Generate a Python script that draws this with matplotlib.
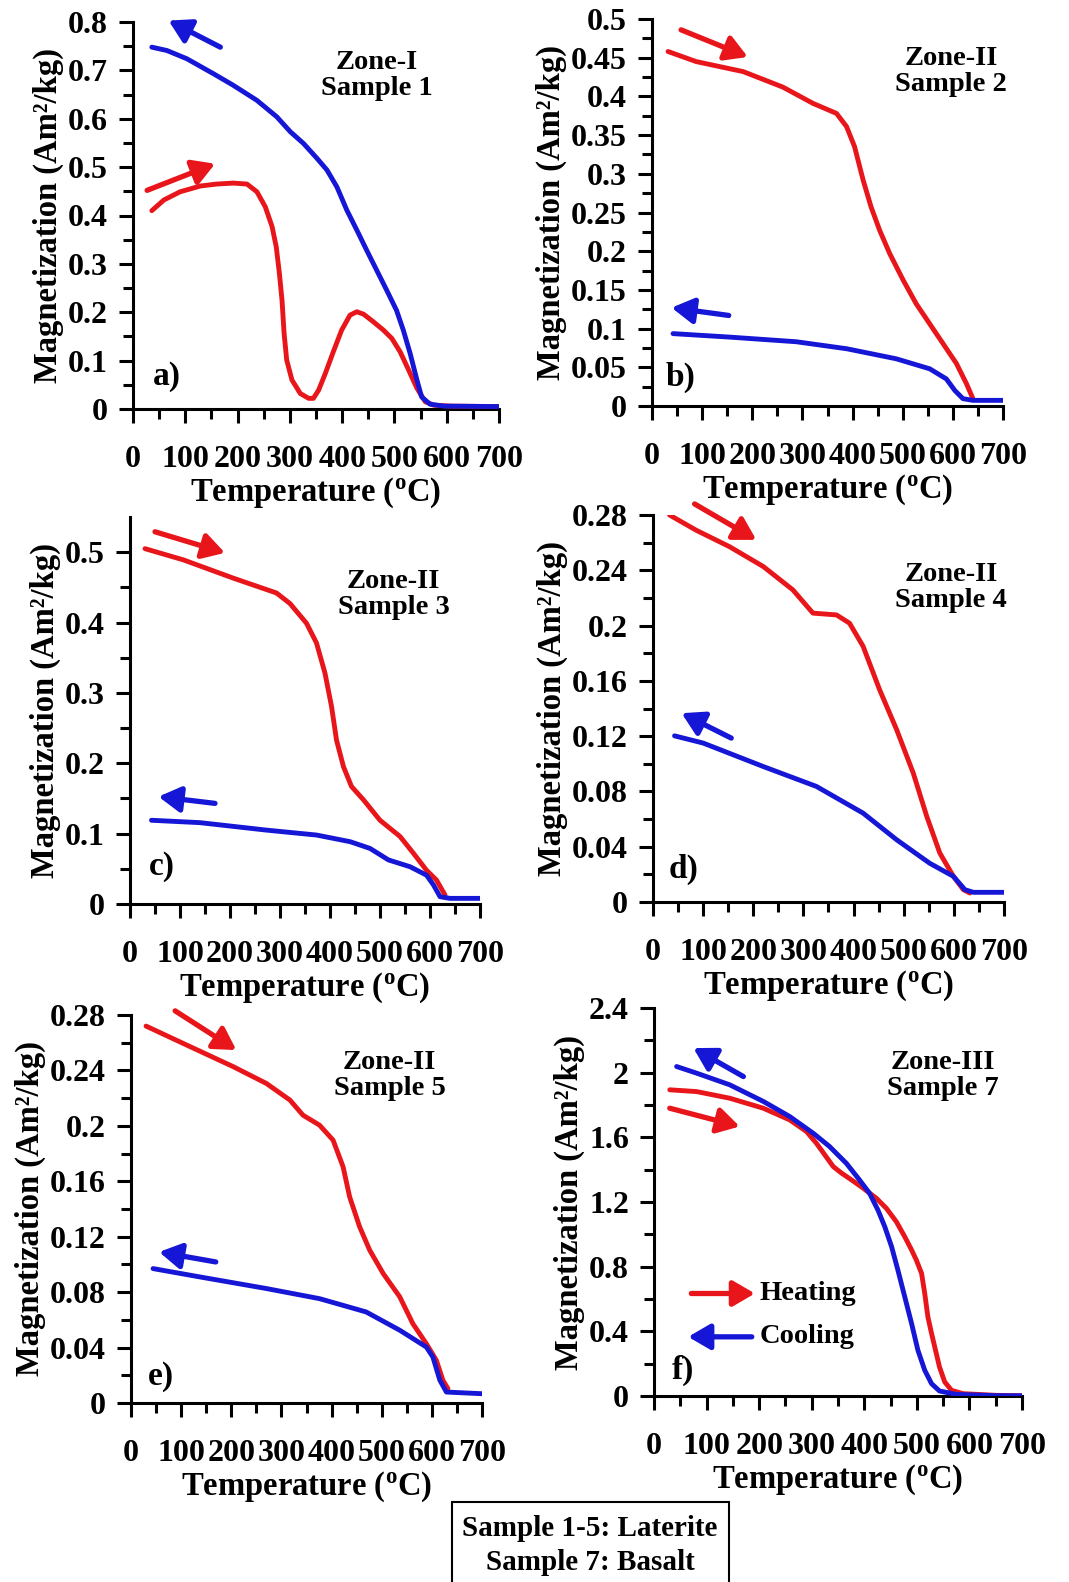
import matplotlib
matplotlib.use("Agg")
import matplotlib.pyplot as plt
from matplotlib.patches import Rectangle

plt.rcParams['font.family'] = ['Liberation Serif', 'DejaVu Serif']
plt.rcParams['font.weight'] = 'bold'
plt.rcParams['axes.labelweight'] = 'bold'
plt.rcParams['mathtext.fontset'] = 'custom'
plt.rcParams['mathtext.rm'] = 'Liberation Serif:bold'
plt.rcParams['mathtext.it'] = 'Liberation Serif:bold'
plt.rcParams['mathtext.bf'] = 'Liberation Serif:bold'

RED = '#e8161b'
BLUE = '#1616d6'

# ---------------- data (Temperature °C, Magnetization Am2/kg) ----------------
# a) Zone-I Sample 1
a_heat_T = [36, 59, 90, 129, 160, 192, 218, 237, 253, 266, 274, 280, 285, 289, 294, 304, 320, 336, 345, 355, 368, 383, 399, 415, 428, 441, 460, 479, 495, 511, 527, 543, 559, 575, 606, 700]
a_heat_M = [0.410, 0.432, 0.449, 0.461, 0.465, 0.467, 0.465, 0.449, 0.418, 0.377, 0.335, 0.280, 0.225, 0.156, 0.101, 0.060, 0.032, 0.022, 0.022, 0.039, 0.074, 0.118, 0.163, 0.194, 0.201, 0.196, 0.180, 0.163, 0.146, 0.118, 0.081, 0.043, 0.015, 0.008, 0.006, 0.005]
a_cool_T = [36, 65, 103, 154, 192, 237, 275, 301, 326, 352, 371, 390, 409, 428, 447, 466, 485, 504, 517, 530, 543, 552, 568, 594, 700]
a_cool_M = [0.748, 0.741, 0.724, 0.693, 0.669, 0.638, 0.604, 0.573, 0.549, 0.518, 0.494, 0.459, 0.411, 0.370, 0.328, 0.287, 0.246, 0.204, 0.163, 0.115, 0.060, 0.025, 0.010, 0.006, 0.005]

# b) Zone-II Sample 2
b_heat_T = [32, 88, 182, 261, 321, 368, 388, 404, 421, 437, 454, 474, 501, 527, 554, 580, 607, 627, 640]
b_heat_M = [0.458, 0.445, 0.432, 0.412, 0.391, 0.378, 0.361, 0.335, 0.292, 0.257, 0.227, 0.197, 0.1625, 0.132, 0.106, 0.081, 0.055, 0.029, 0.0095]
b_cool_T = [42, 155, 288, 388, 487, 554, 587, 604, 620, 640, 700]
b_cool_M = [0.0935, 0.089, 0.083, 0.074, 0.061, 0.048, 0.035, 0.020, 0.0095, 0.0073, 0.0073]

# c) Zone-II Sample 3
c_heat_T = [30, 107, 207, 293, 320, 353, 373, 390, 403, 413, 427, 443, 467, 500, 540, 567, 593, 613, 630]
c_heat_M = [0.505, 0.489, 0.463, 0.442, 0.427, 0.399, 0.371, 0.328, 0.281, 0.233, 0.195, 0.167, 0.148, 0.119, 0.096, 0.072, 0.048, 0.034, 0.0128]
c_cool_T = [43, 140, 273, 373, 440, 480, 517, 560, 593, 607, 620, 640, 700]
c_cool_M = [0.119, 0.1156, 0.105, 0.098, 0.0886, 0.079, 0.0626, 0.053, 0.041, 0.027, 0.0104, 0.008, 0.008]

# d) Zone-II Sample 4
d_heat_T = [33, 86, 153, 220, 279, 319, 366, 392, 419, 452, 486, 519, 546, 572, 599, 619, 632]
d_heat_M = [0.280, 0.269, 0.257, 0.2427, 0.2258, 0.209, 0.2077, 0.2017, 0.185, 0.1535, 0.1246, 0.0933, 0.0619, 0.0354, 0.0186, 0.0089, 0.0065]
d_cool_T = [43, 100, 220, 326, 419, 486, 552, 599, 622, 639, 700]
d_cool_M = [0.1202, 0.115, 0.098, 0.0836, 0.0643, 0.045, 0.028, 0.0186, 0.0089, 0.007, 0.007]

# e) Zone-II Sample 5
e_heat_T = [30, 104, 204, 270, 317, 343, 376, 403, 423, 436, 456, 476, 503, 536, 562, 589, 609, 622, 632]
e_heat_M = [0.272, 0.2595, 0.2427, 0.2306, 0.2186, 0.2077, 0.2005, 0.1897, 0.1704, 0.1488, 0.1271, 0.1103, 0.0934, 0.0766, 0.0573, 0.0428, 0.0308, 0.0164, 0.0104]
e_cool_T = [44, 137, 270, 376, 469, 536, 589, 602, 616, 629, 700]
e_cool_M = [0.097, 0.091, 0.0826, 0.0753, 0.0657, 0.0525, 0.0404, 0.0332, 0.0164, 0.0079, 0.0067]

# f) Zone-III Sample 7
f_heat_T = [30, 81, 144, 208, 258, 290, 309, 325, 341, 357, 376, 398, 423, 442, 461, 477, 490, 499, 509, 515, 521, 528, 534, 543, 553, 566, 588, 651, 700]
f_heat_M = [1.894, 1.883, 1.842, 1.780, 1.708, 1.636, 1.563, 1.491, 1.419, 1.378, 1.336, 1.285, 1.223, 1.161, 1.078, 0.985, 0.903, 0.841, 0.758, 0.634, 0.489, 0.386, 0.304, 0.180, 0.087, 0.035, 0.0145, 0.004, 0.002]
f_cool_T = [43, 81, 144, 208, 258, 303, 334, 366, 391, 410, 426, 439, 452, 464, 477, 490, 502, 515, 528, 543, 575, 651, 700]
f_cool_M = [2.038, 1.997, 1.925, 1.822, 1.729, 1.625, 1.543, 1.439, 1.336, 1.254, 1.150, 1.047, 0.923, 0.778, 0.613, 0.448, 0.283, 0.159, 0.076, 0.031, 0.010, 0.002, 0.001]

x_ticks = [0, 100, 200, 300, 400, 500, 600, 700]
x_ticklabels = ['0', '100', '200', '300', '400', '500', '600', '700']

a_yticks = [0, 0.1, 0.2, 0.3, 0.4, 0.5, 0.6, 0.7, 0.8]
b_yticks = [0, 0.05, 0.1, 0.15, 0.2, 0.25, 0.3, 0.35, 0.4, 0.45, 0.5]
c_yticks = [0, 0.1, 0.2, 0.3, 0.4, 0.5]
d_yticks = [0, 0.04, 0.08, 0.12, 0.16, 0.2, 0.24, 0.28]
e_yticks = [0, 0.04, 0.08, 0.12, 0.16, 0.2, 0.24, 0.28]
f_yticks = [0, 0.4, 0.8, 1.2, 1.6, 2, 2.4]

zone_labels = ['Zone-I\nSample 1', 'Zone-II\nSample 2', 'Zone-II\nSample 3',
               'Zone-II\nSample 4', 'Zone-II\nSample 5', 'Zone-III\nSample 7']
panel_letters = ['a)', 'b)', 'c)', 'd)', 'e)', 'f)']

# ---------------- figure ----------------
W, H = 1069, 1582
fig = plt.figure(figsize=(W / 100, H / 100), dpi=100)


def ax_px(left, right, top, bottom):
    return [left / W, 1 - bottom / H, (right - left) / W, (bottom - top) / H]


def arrow(ax, tail, head, color):
    ax.annotate('', xy=head, xytext=tail, annotation_clip=False,
                arrowprops=dict(arrowstyle='-|>,head_length=0.6,head_width=0.35',
                                color=color, lw=3.8, mutation_scale=22,
                                shrinkA=0, shrinkB=0))


def panel(rect, heat, cool, ylim, yticks, minor_step, zone, zone_xy,
          letter, letter_xy, red_arrow, blue_arrow):
    ax = fig.add_axes(rect)
    ax.plot(heat[0], heat[1], color=RED, lw=3.5, solid_capstyle='round',
            solid_joinstyle='round', zorder=3)
    ax.plot(cool[0], cool[1], color=BLUE, lw=3.5, solid_capstyle='round',
            solid_joinstyle='round', zorder=4)
    ax.set_xlim(0, 700)
    ax.set_ylim(0, ylim)
    for s in ['top', 'right']:
        ax.spines[s].set_visible(False)
    for s in ['left', 'bottom']:
        ax.spines[s].set_linewidth(2.2)
    ax.set_xticks(x_ticks)
    ax.set_xticklabels(x_ticklabels)
    ax.set_xticks(list(range(50, 700, 100)), minor=True)
    ax.set_yticks(yticks)
    ax.set_yticklabels(['%g' % v for v in yticks])
    mins = []
    v = minor_step
    k = 1
    while v < ylim - 1e-9:
        mins.append(v)
        k += 2
        v = minor_step * k
    ax.set_yticks(mins, minor=True)
    ax.tick_params(axis='both', which='major', labelsize=23, width=2.2, length=10)
    ax.tick_params(axis='both', which='minor', width=2.2, length=7)
    ax.tick_params(axis='x', which='major', pad=16)
    ax.tick_params(axis='y', which='major', pad=8)
    ax.set_xlabel('Temperature ($^{\\mathrm{o}}$C)', fontsize=23.5, labelpad=1)
    ax.set_ylabel('Magnetization (Am²/kg)', fontsize=23.5, labelpad=3)
    ax.text(zone_xy[0], zone_xy[1], zone, fontsize=20.5, ha='center', va='center',
            linespacing=1.05)
    ax.text(letter_xy[0], letter_xy[1], letter, fontsize=24, ha='left', va='center')
    arrow(ax, red_arrow[0], red_arrow[1], RED)
    arrow(ax, blue_arrow[0], blue_arrow[1], BLUE)
    return ax


ax_a = panel(ax_px(133, 499, 22, 409), (a_heat_T, a_heat_M), (a_cool_T, a_cool_M),
             0.8, a_yticks, 0.05, zone_labels[0], (466, 0.69), panel_letters[0], (38, 0.067),
             ((27, 0.452), (157, 0.507)), ((167, 0.748), (68, 0.803)))
ax_b = panel(ax_px(652, 1003, 19, 406), (b_heat_T, b_heat_M), (b_cool_T, b_cool_M),
             0.5, b_yticks, 0.025, zone_labels[1], (597, 0.432), panel_letters[1], (28, 0.0375),
             ((58, 0.486), (191, 0.451)), ((153, 0.117), (39, 0.127)))
ax_c = panel(ax_px(130, 480, 517, 904), (c_heat_T, c_heat_M), (c_cool_T, c_cool_M),
             0.55, c_yticks, 0.05, zone_labels[2], (527, 0.44), panel_letters[2], (38, 0.053),
             ((50, 0.529), (190, 0.499)), ((170, 0.143), (57, 0.1526)))
ax_d = panel(ax_px(653, 1004, 515, 902), (d_heat_T, d_heat_M), (d_cool_T, d_cool_M),
             0.28, d_yticks, 0.02, zone_labels[3], (595, 0.2275), panel_letters[3], (32, 0.0234),
             ((83, 0.288), (206, 0.262)), ((156, 0.1186), (57, 0.1366)))
ax_e = panel(ax_px(131, 482, 1015, 1403), (e_heat_T, e_heat_M), (e_cool_T, e_cool_M),
             0.28, e_yticks, 0.02, zone_labels[4], (516, 0.236), panel_letters[4], (34, 0.0188),
             ((88, 0.283), (210, 0.2547)), ((169, 0.1018), (56, 0.109)))
ax_f = panel(ax_px(654, 1022, 1008, 1396), (f_heat_T, f_heat_M), (f_cool_T, f_cool_M),
             2.4, f_yticks, 0.2, zone_labels[5], (550, 1.98), panel_letters[5], (33, 0.159),
             ((30, 1.780), (163, 1.667)), ((170, 1.976), (75, 2.152)))

# legend arrows in panel f
arrow(ax_f, (71, 0.634), (192, 0.634), RED)
arrow(ax_f, (186, 0.366), (65, 0.366), BLUE)
ax_f.text(201, 0.634, 'Heating', fontsize=20.5, ha='left', va='center')
ax_f.text(201, 0.366, 'Cooling', fontsize=20.5, ha='left', va='center')

# info box
fig.patches.append(Rectangle((452 / W, -0.01), (729 - 452) / W, 0.01 + (1582 - 1502) / H,
                             transform=fig.transFigure, fill=False, lw=1.5,
                             edgecolor='black'))
fig.text(590 / W, 1 - 1528 / H, 'Sample 1-5: Laterite', fontsize=21, ha='center', va='center')
fig.text(590 / W, 1 - 1562 / H, 'Sample 7: Basalt', fontsize=21, ha='center', va='center')

fig.savefig('out.png', dpi=100)
